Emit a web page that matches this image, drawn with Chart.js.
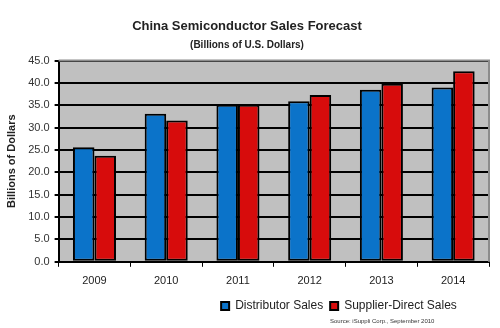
<!DOCTYPE html>
<html>
<head>
<meta charset="utf-8">
<script src="https://cdn.jsdelivr.net/npm/chart.js@4/dist/chart.umd.min.js"></script>
<style>
  html, body { margin: 0; padding: 0; background: #fff; }
  #wrap { position: relative; width: 500px; height: 328px; }
  #source { position: absolute; left: 330px; top: 318px; font: 6px "Liberation Sans", Arial, sans-serif; color: #333; white-space: nowrap; }
</style>
</head>
<body>
<div id="wrap">
  <canvas id="salesChart" width="500" height="328"></canvas>
  <div id="source">Source: iSuppli Corp., September 2010</div>
</div>
<script>
// China semiconductor sales forecast, billions of USD
const years = ['2009', '2010', '2011', '2012', '2013', '2014'];
const distributorSales = [25.6, 33.1, 35.1, 35.9, 38.5, 39.0];
const supplierDirectSales = [23.7, 31.6, 35.1, 37.3, 39.8, 42.6];
const yTicks = [0, 5, 10, 15, 20, 25, 30, 35, 40, 45];

const FONT = '"Liberation Sans", Arial, sans-serif';

// gray plot background + gray frame on top/right
const plotBg = {
  id: 'plotBg',
  beforeDraw(chart) {
    const { ctx, chartArea: a } = chart;
    ctx.save();
    ctx.fillStyle = '#c0c0c0';
    ctx.fillRect(a.left, a.top, a.right - a.left, a.bottom - a.top);
    ctx.restore();
  },
  afterDatasetsDraw(chart) {
    const { ctx, chartArea: a } = chart;
    ctx.save();
    ctx.strokeStyle = '#8c8c8c';
    ctx.lineWidth = 2;
    ctx.beginPath();
    ctx.moveTo(a.left, a.top);
    ctx.lineTo(a.right, a.top);
    ctx.lineTo(a.right, a.bottom);
    ctx.stroke();
    ctx.restore();
  },
};

// legend sits right of centre (and a bit higher) in the original
const legendShift = {
  id: 'legendShift',
  afterLayout(chart) {
    const lg = chart.legend;
    if (!lg) return;
    lg.left += 92;
    lg.right += 92;
    lg.top -= 3;
    lg.bottom -= 3;
  },
};

new Chart(document.getElementById('salesChart'), {
  type: 'bar',
  data: {
    labels: years,
    datasets: [
      {
        label: 'Distributor Sales',
        data: distributorSales,
        backgroundColor: '#0b73c9',
        borderColor: '#000',
        borderWidth: 2,
        borderSkipped: false,
      },
      {
        label: 'Supplier-Direct Sales',
        data: supplierDirectSales,
        backgroundColor: '#d70c0c',
        borderColor: '#000',
        borderWidth: 2,
        borderSkipped: false,
      },
    ],
  },
  options: {
    responsive: false,
    animation: false,
    layout: { padding: { top: 13, right: 11, bottom: 3, left: 5 } },
    datasets: { bar: { categoryPercentage: 0.6, barPercentage: 1.0 } },
    plugins: {
      title: {
        display: true,
        text: 'China Semiconductor Sales Forecast',
        color: '#222',
        font: { family: FONT, size: 13, weight: 'bold' },
        padding: { top: 6, bottom: 5 },
      },
      subtitle: {
        display: true,
        text: '(Billions of U.S. Dollars)',
        color: '#222',
        font: { family: FONT, size: 10, weight: 'bold' },
        padding: { top: 0, bottom: 9 },
      },
      legend: {
        position: 'bottom',
        labels: {
          color: '#222',
          font: { family: FONT, size: 12 },
          boxWidth: 8,
          boxHeight: 8,
          padding: 7,
          useBorderRadius: false,
        },
      },
      tooltip: { enabled: false },
    },
    scales: {
      x: {
        grid: {
          display: true,
          drawOnChartArea: false,
          drawTicks: true,
          tickLength: 5,
          color: '#000',
          lineWidth: 1,
        },
        border: { color: '#000', width: 2 },
        ticks: { color: '#222', font: { family: FONT, size: 11 }, padding: 8 },
      },
      y: {
        min: 0,
        max: 45,
        afterBuildTicks(axis) {
          axis.ticks = yTicks.map(v => ({ value: v }));
        },
        grid: { color: '#000', lineWidth: 2, tickLength: 4, tickColor: '#000' },
        border: { color: '#000', width: 2 },
        ticks: {
          color: '#333',
          font: { family: FONT, size: 11 },
          padding: 5,
          callback: v => v.toFixed(1),
        },
        title: {
          display: true,
          text: 'Billions of Dollars',
          color: '#222',
          font: { family: FONT, size: 11, weight: 'bold' },
          padding: { top: 0, bottom: 5 },
        },
      },
    },
  },
  plugins: [plotBg, legendShift],
});
</script>
</body>
</html>
